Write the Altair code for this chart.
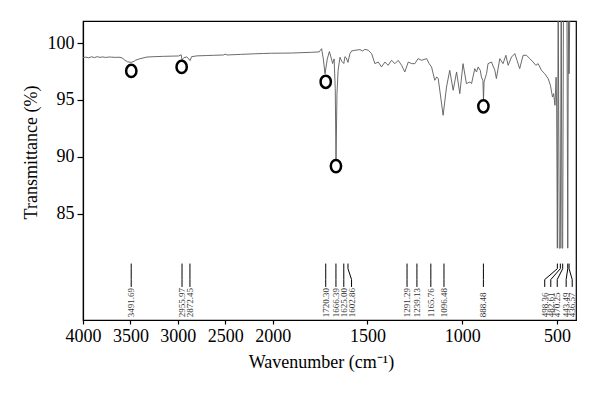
import altair as alt
import pandas as pd

# ---- spectrum (wavenumber cm-1, transmittance %) ----
wavenumber = [
    4000, 3970, 3940, 3910, 3880, 3850, 3820, 3790, 3760, 3730, 3700, 3660, 3620, 3589,
    3560, 3530, 3491, 3460, 3449, 3400, 3325, 3250, 3150, 3050, 2992, 2965, 2956,
    2935, 2905, 2885, 2872, 2855, 2800, 2700, 2623, 2520, 2500, 2480, 2342, 2200, 2100,
    2014, 1900, 1800, 1755, 1742, 1733, 1724, 1712, 1701, 1690, 1684, 1676, 1670,
    1666, 1661, 1655, 1645, 1636, 1625, 1619, 1612, 1603, 1593, 1584, 1566, 1540,
    1525, 1514, 1496, 1478, 1461, 1443, 1426, 1408, 1391, 1373, 1355, 1338, 1320,
    1303, 1285, 1267, 1250, 1233, 1215, 1188, 1175, 1162, 1145, 1135, 1127, 1101,
    1083, 1066, 1048, 1030, 1013, 996, 978, 960, 951, 934, 925, 916, 905, 899, 891,
    888, 885, 872, 864, 846, 828, 820, 802, 785, 770, 758, 740, 723, 711, 697, 679,
    661, 644, 626, 612, 600, 582, 565, 547, 535, 524, 518, 511, 505, 502, 498.4,
    494, 488, 482.6, 478, 474, 470.3, 466, 455, 448, 443.5, 440, 436.6, 432, 420, 400,
]
transmittance = [
    98.72, 98.76, 98.70, 98.79, 98.72, 98.80, 98.74, 98.78, 98.73, 98.77, 98.76, 98.74, 98.75, 98.70,
    98.50, 98.35, 98.30, 98.40, 98.48, 98.62, 98.77, 98.80, 98.83, 98.85, 98.86, 98.97, 98.52,
    98.72, 98.78, 98.60, 98.46, 98.80, 98.87, 98.90, 98.92, 98.95, 99.02, 98.95, 99.00, 99.05, 99.08,
    99.10, 99.12, 99.18, 99.22, 99.50, 98.60, 97.30, 98.60, 99.25, 98.60, 98.20, 98.60, 96.00,
    89.70, 95.50, 97.60, 98.75, 98.40, 98.20, 98.80, 98.70, 98.30, 99.05, 99.30, 99.36, 99.42,
    99.30, 99.45, 99.36, 99.07, 98.19, 98.33, 97.90, 98.33, 98.04, 98.48, 98.19, 98.48, 98.04,
    97.46, 98.33, 98.19, 98.19, 98.63, 98.48, 98.63, 98.20, 97.90, 96.73, 97.02, 96.90, 93.66,
    96.14, 97.60, 95.85, 97.46, 95.56, 98.19, 96.44, 96.58, 96.44, 97.75, 97.46, 97.90, 97.60, 97.02, 96.70,
    95.00, 96.60, 97.31, 98.19, 98.33, 97.60, 96.88, 98.63, 98.19, 98.92, 98.04, 98.77, 99.07, 98.48, 97.75, 98.92,
    98.92, 98.63, 98.33, 98.04, 98.19, 97.60, 97.31, 96.88, 96.29, 95.26, 95.56, 94.54, 97.00, 94.30, 82.0,
    104.0, 82.0, 82.0, 104.0, 82.0, 82.0, 104.0, 104.0, 104.0, 82.0, 104.0, 97.30, 104.0, 104.0, 104.0,
]

# ---- annotated peaks ----
peak_wn = [3491.69, 2955.97, 2872.45, 1720.30, 1666.39, 1625.00, 1602.86, 1291.29,
           1239.13, 1165.76, 1096.48, 888.48, 498.36, 482.61, 470.25, 443.49, 436.57]
label_wn = [3491.69, 2955.97, 2872.45, 1720.30, 1666.39, 1625.00, 1584.0, 1291.29,
            1239.13, 1165.76, 1096.48, 888.48, 565.0, 533.0, 499.0, 452.0, 420.0]

# ---- circled bands ----
circle_wn = [3491.0, 2960.0, 1720.3, 1666.39, 888.48]
circle_t = [97.55, 97.90, 96.60, 89.20, 94.45]

spec = pd.DataFrame({"wn": wavenumber, "t": transmittance})
circles = pd.DataFrame({"wn": circle_wn, "t": circle_t})
labels = pd.DataFrame({"wn": label_wn, "peak": peak_wn, "t": [75.95] * len(peak_wn)})
lead_rows = []
for i, (p, l) in enumerate(zip(peak_wn, label_wn)):
    for k, (w, t) in enumerate([(p, 80.65), (p, 80.2), (l, 79.25), (l, 78.6)]):
        lead_rows.append({"id": i, "k": k, "wn": w, "t": t})
leaders = pd.DataFrame(lead_rows)

xscale = alt.Scale(domain=[4000, 2000, 400], range=[0, 189.7, 493], nice=False, zero=False)
yscale = alt.Scale(domain=[75.7, 101.93], nice=False, zero=False)

xaxis = alt.Axis(values=[4000, 3500, 3000, 2500, 2000, 1500, 1000, 500], format="d",
                 title="Wavenumber (cm⁻¹)", tickSize=4, labelPadding=3,
                 labelFlush=False, labelOverlap=False,
                 titlePadding=8, titleX=238, titleAlign="center")
yaxis = alt.Axis(values=[85, 90, 95, 100], title="Transmittance (%)", tickSize=6,
                 labelPadding=3, labelOverlap=False, labelFlush=False,
                 titleX=-52, titleY=131, titleAngle=270,
                 titleAlign="center", titleBaseline="middle")

X = alt.X("wn:Q", scale=xscale, axis=xaxis)
Y = alt.Y("t:Q", scale=yscale, axis=yaxis)

line = alt.Chart(spec).mark_line(clip=True, color="#5a5a5a", strokeWidth=0.9).encode(
    x=X, y=Y, order="wn:Q",
)

circ = alt.Chart(circles).mark_point(
    shape="M0,-1A0.84,1,0,1,1,0,1A0.84,1,0,1,1,0,-1Z", size=150, filled=False,
    color="black", strokeWidth=2.5, opacity=1,
).encode(x=X, y=Y)

lead = alt.Chart(leaders).mark_line(color="black", strokeWidth=1).encode(
    x=X, y=Y, detail="id:N", order="k:Q",
)

txt = alt.Chart(labels).mark_text(
    angle=270, align="left", baseline="middle", font="Liberation Serif", fontSize=9, color="#333333",
).encode(
    x=X, y=Y, text=alt.Text("peak:Q", format=".2f"),
)

chart = alt.layer(line, lead, txt, circ).properties(
    width=493, height=299,
    autosize=alt.AutoSizeParams(type="none"),
    padding={"left": 75, "top": 13, "right": 8, "bottom": 78},
    background="white",
).configure_view(stroke="black", strokeWidth=1.2).configure_axis(
    grid=False, domainColor="black", tickColor="black", labelColor="black", titleColor="black",
    labelFont="Liberation Serif", titleFont="Liberation Serif", labelFontSize=18, titleFontSize=18,
    titleFontWeight="normal", domainWidth=1.2, tickWidth=1.2,
)

chart.save("out.html", embed_options={"renderer": "svg", "actions": False})
